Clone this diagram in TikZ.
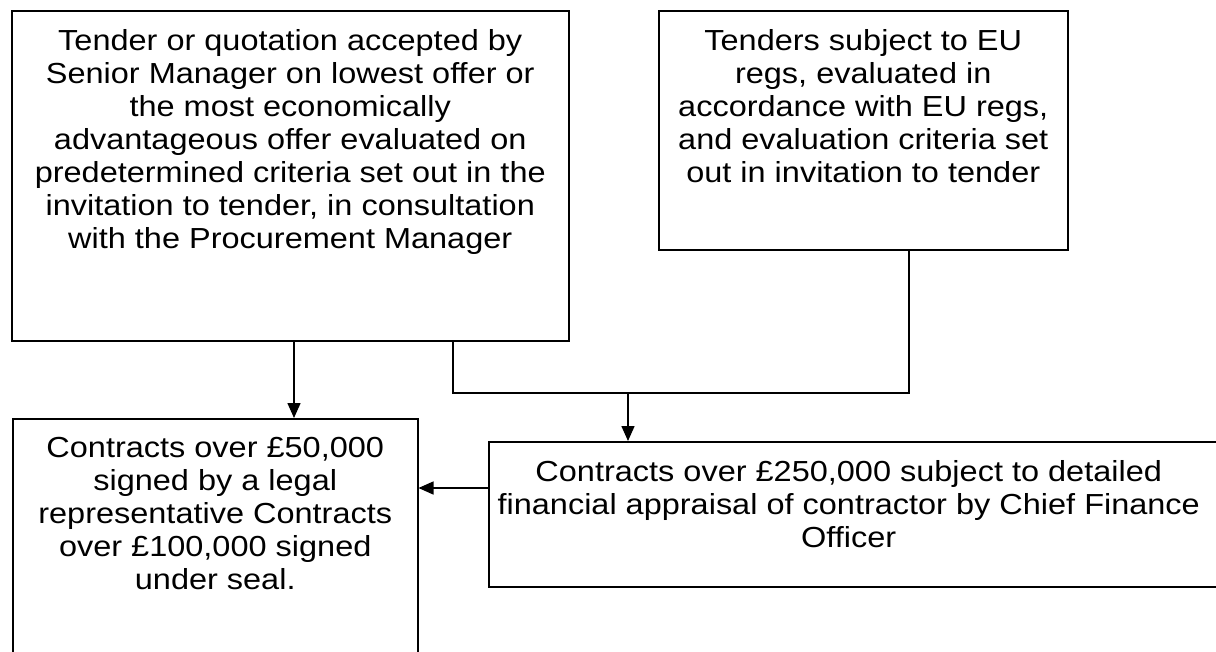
\documentclass[tikz,border=0pt]{standalone}
\usepackage{fontspec}
\setmainfont{Liberation Sans}[FakeStretch=1.12]
\usetikzlibrary{arrows.meta,positioning}

\begin{document}
\begin{tikzpicture}[x=1pt,y=-1pt]
\tikzset{
  box/.style={draw,line width=1.5pt,rectangle,inner sep=0pt,anchor=north west},
  txt/.style={align=center,inner sep=0pt,anchor=north,font=\fontsize{29}{33}\selectfont},
  link/.style={line width=1.5pt},
  arr/.style={-{Triangle[length=15pt,width=13pt]},line width=1.5pt}
}
\useasboundingbox (0,0) rectangle (1216,651);
\clip (0,0) rectangle (1216,651);
% boxes
\node[box,minimum width=557pt,minimum height=330pt] (accept) at (11,10) {};
\node[box,minimum width=409pt,minimum height=239pt] (euregs) at (658,10) {};
\node[box,minimum width=405pt,minimum height=300pt] (signed) at (12,418) {};
\node[box,minimum width=760pt,minimum height=145pt] (appraise) at (488,441) {};
% texts
\node[txt] (accepttxt) at ([yshift=-19pt]accept.north) {Tender or quotation accepted by\\Senior Manager on lowest offer or\\the most economically\\advantageous offer evaluated on\\predetermined criteria set out in the\\invitation to tender, in consultation\\with the Procurement Manager};
\node[txt] (euregstxt) at ([yshift=-19pt]euregs.north) {Tenders subject to EU\\regs, evaluated in\\accordance with EU regs,\\and evaluation criteria set\\out in invitation to tender};
\node[txt] (signedtxt) at ([yshift=-19pt]signed.north) {Contracts over £50,000\\signed by a legal\\representative Contracts\\over £100,000 signed\\under seal.};
\node[txt] (appraisetxt) at ([xshift=-20pt,yshift=-19pt]appraise.north) {Contracts over £250,000 subject to detailed\\financial appraisal of contractor by Chief Finance\\Officer};
% connectors
\coordinate (aleft) at (294,340);
\coordinate (aright) at (453,340);
\coordinate (eufoot) at (909,249);
\coordinate (join) at (628,393);
\coordinate (side) at (0,488);
\draw[arr] (aleft) -- (aleft |- signed.north);
\draw[link] (aright) |- (eufoot |- join) -- (eufoot);
\draw[arr] (join) -- (join |- appraise.north);
\draw[arr] (appraise.west |- side) -- (signed.east |- side);
\end{tikzpicture}
\end{document}
